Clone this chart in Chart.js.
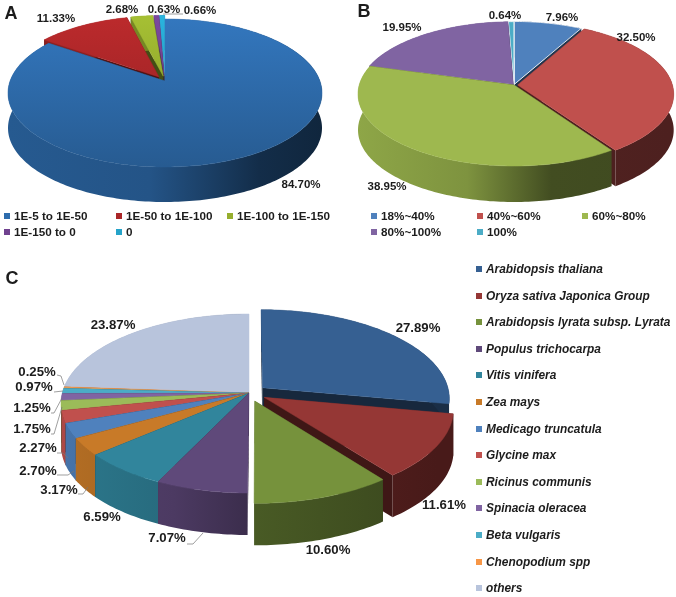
<!DOCTYPE html>
<html>
<head>
<meta charset="utf-8">
<title>Pie charts</title>
<script src="https://cdn.jsdelivr.net/npm/chart.js@4"></script>
<style>
	body {margin: 0; background: #fff;}
	canvas {position: absolute; left: 0; top: 0;}
</style>
</head>
<body>
<canvas id="pie_a" width="676" height="597"></canvas>
<canvas id="pie_b" width="676" height="597"></canvas>
<canvas id="pie_c" width="676" height="597"></canvas>
<script>
var aLabels = ["1E-5 to 1E-50", "1E-50 to 1E-100", "1E-100 to 1E-150", "1E-150 to 0", "0"];
var aValues = [84.70, 11.33, 2.68, 0.63, 0.66];
var aColors = ["#2e6cad", "#aa2628", "#96ae2e", "#70418f", "#25a3c9"];
var aOffsets = [0, 20, 20, 20, 20];

var bLabels = ["18%~40%", "40%~60%", "60%~80%", "80%~100%", "100%"];
var bValues = [7.96, 32.50, 38.95, 19.95, 0.64];
var bColors = ["#4f81bd", "#c0504d", "#9eb84f", "#8064a2", "#4bacc6"];
var bOffsets = [3, 7, 0, 2, 2];

var cLabels = ["Arabidopsis thaliana", "Oryza sativa Japonica Group", "Arabidopsis lyrata subsp. Lyrata",
	"Populus trichocarpa", "Vitis vinifera", "Zea mays", "Medicago truncatula", "Glycine max",
	"Ricinus communis", "Spinacia oleracea", "Beta vulgaris", "Chenopodium spp", "others"];
var cValues = [27.89, 11.61, 10.60, 7.07, 6.59, 3.17, 2.70, 2.27, 1.75, 1.25, 0.97, 0.25, 23.87];
var cColors = ["#366092", "#953735", "#76923c", "#5f497a", "#31859c", "#c87a28", "#4f81bd",
	"#c0504d", "#9bbb59", "#8064a2", "#4bacc6", "#f79646", "#b8c4dc"];
var cOffsets = [27, 27, 27, 0, 0, 0, 0, 0, 0, 0, 0, 0, 0];

//where things sit on the page
var layoutA = {
	letter: "A", letterX: 11, letterY: 14,
	cx: 165, ay: 81, far: 62, near: 86, halfWidth: 157, depth: 35,
	sideStops: [[0, .83], [.45, .78], [.8, .42], [1, .35]], topShade: [1.1, .84], cutShade: .45,
	textX: [301, 56, 122, 164, 200], textY: [185, 19, 10, 10, 11],
	font: "bold 11.5px 'Liberation Sans'",
	leaders: [[[163, 14], [183, 14]]],
	legendX: [4, 116, 227, 4, 116], legendY: [216, 216, 216, 232, 232],
	legendFont: "bold 11.7px 'Liberation Sans'"
};
var layoutB = {
	letter: "B", letterX: 364, letterY: 12,
	cx: 514, ay: 85, far: 63, near: 81, halfWidth: 156, depth: 36,
	sideStops: [[0, .9], [.35, .8], [.62, .42], [1, .4]], topShade: [1, 1], cutShade: .4,
	whiteEdge: [true, false, false, false, true],
	textX: [562, 636, 387, 402, 505], textY: [18, 38, 187, 28, 16],
	font: "bold 11.5px 'Liberation Sans'",
	leaders: [],
	legendX: [371, 477, 582, 371, 477], legendY: [216, 216, 216, 232, 232],
	legendFont: "bold 11.7px 'Liberation Sans'"
};
var layoutC = {
	letter: "C", letterX: 12, letterY: 279,
	cx: 249, ay: 393, far: 79, near: 100, halfWidth: 188, depth: 42,
	sideStops: [[0, .9], [.3, .8], [.5, .62], [1, .48]], topShade: [1, 1], cutShade: .42,
	textX: [418, 444, 328, 167, 102, 59, 38, 38, 32, 32, 34, 37, 113],
	textY: [328, 505, 550, 538, 517, 490, 471, 448, 429, 408, 387, 372, 325],
	font: "bold 13.2px 'Liberation Sans'",
	leaders: [
		[[57, 375], [61, 376], [64, 385]], [[54, 392], [63, 391]], [[51, 413], [54, 413], [62, 398]],
		[[51, 434], [54, 434], [62, 407]], [[57, 453], [63, 453], [68, 458]], [[57, 475], [68, 475], [74, 471]],
		[[78, 494], [83, 494], [88, 487]], [[187, 544], [193, 544], [203, 533]]
	],
	legendX: [476, 476, 476, 476, 476, 476, 476, 476, 476, 476, 476, 476, 476],
	legendY: [269, 296, 322, 349, 375, 402, 429, 455, 482, 508, 535, 562, 588],
	legendFont: "italic bold 11.9px 'Liberation Sans'"
};

function shade(hex, f) {
	var out = "rgb(";
	for (var i = 0; i < 3; i++) {
		var v = parseInt(hex.substr(1 + i * 2, 2), 16) * f;
		out += Math.min(255, Math.round(v)) + (i < 2 ? "," : ")");
	}
	return out;
}

//tilted 3d pie: takes the arc angles chart.js worked out and projects them
function tiltedPie(g, labels, values, colors) {
	var p = (g.near - g.far) / (g.near + g.far);
	var B = g.far * (1 + p);
	var A = g.halfWidth * Math.sqrt(1 - p * p);

	function project(nx, ny, drop) {
		var w = 1 - p * ny;
		return [g.cx + A * nx / w, g.ay + B * ny / w + drop];
	}
	function trace(ctx, pts) {
		ctx.beginPath();
		pts.forEach(function(pt, i) {
			if (i == 0) ctx.moveTo(pt[0], pt[1]);
			else ctx.lineTo(pt[0], pt[1]);
		});
		ctx.closePath();
	}

	return {
		id: "tiltedPie",
		beforeDatasetsDraw: function(chart) {
			var ctx = chart.ctx;
			var slices = chart.getDatasetMeta(0).data.map(function(el, i) {
				var mid = (el.startAngle + el.endAngle) / 2;
				var off = el.options.offset / el.outerRadius;
				return {el: el, index: i, color: colors[i], mid: mid, bx: off * Math.cos(mid), by: off * Math.sin(mid)};
			});
			slices.sort(function(a, b) {return Math.sin(a.mid) - Math.sin(b.mid);});

			slices.forEach(function(s) {
				var rim = [];
				var steps = Math.max(2, Math.ceil((s.el.endAngle - s.el.startAngle) / 0.02));
				for (var k = 0; k <= steps; k++) {
					var a = s.el.startAngle + (s.el.endAngle - s.el.startAngle) * k / steps;
					rim.push([s.bx + Math.cos(a), s.by + Math.sin(a)]);
				}
				var top = rim.map(function(q) {return project(q[0], q[1], 0);});
				var low = rim.map(function(q) {return project(q[0], q[1], g.depth);});
				var apex = project(s.bx, s.by, 0);
				var apexLow = project(s.bx, s.by, g.depth);

				//cut faces
				ctx.fillStyle = shade(s.color, g.cutShade);
				trace(ctx, [apex, top[0], low[0], apexLow]);
				ctx.fill();
				trace(ctx, [apex, top[steps], low[steps], apexLow]);
				ctx.fill();

				//outer wall
				var wall = ctx.createLinearGradient(g.cx - g.halfWidth, 0, g.cx + g.halfWidth, 0);
				g.sideStops.forEach(function(st) {wall.addColorStop(st[0], shade(s.color, st[1]));});
				ctx.fillStyle = wall;
				trace(ctx, top.concat(low.slice().reverse()));
				ctx.fill();

				//top face
				var face = ctx.createLinearGradient(0, g.ay - g.far, 0, g.ay + g.near);
				face.addColorStop(0, shade(s.color, g.topShade[0]));
				face.addColorStop(1, shade(s.color, g.topShade[1]));
				ctx.fillStyle = face;
				trace(ctx, [apex].concat(top));
				ctx.fill();
				var white = g.whiteEdge && g.whiteEdge[s.index];
				ctx.strokeStyle = white ? "#fff" : face;
				ctx.lineWidth = white ? 0.8 : 0.5;
				ctx.stroke();
			});
			return false;
		},
		afterDraw: function(chart) {
			var ctx = chart.ctx;
			ctx.save();

			ctx.strokeStyle = "#777";
			ctx.lineWidth = 0.7;
			g.leaders.forEach(function(line) {
				ctx.beginPath();
				line.forEach(function(pt, i) {
					if (i == 0) ctx.moveTo(pt[0], pt[1]);
					else ctx.lineTo(pt[0], pt[1]);
				});
				ctx.stroke();
			});

			ctx.textBaseline = "middle";
			ctx.fillStyle = "#1c1c1c";
			ctx.textAlign = "center";
			ctx.font = g.font;
			values.forEach(function(v, i) {
				ctx.fillText(v.toFixed(2) + "%", g.textX[i], g.textY[i]);
			});

			ctx.font = "bold 18px 'Liberation Sans'";
			ctx.fillText(g.letter, g.letterX, g.letterY);

			ctx.textAlign = "left";
			ctx.font = g.legendFont;
			labels.forEach(function(name, i) {
				ctx.fillStyle = colors[i];
				ctx.fillRect(g.legendX[i], g.legendY[i] - 3, 6, 6);
				ctx.fillStyle = "#1c1c1c";
				ctx.fillText(name, g.legendX[i] + 10, g.legendY[i] + 0.5);
			});
			ctx.restore();
		}
	};
}

function makePie(id, labels, values, colors, offsets, layout) {
	return new Chart(document.getElementById(id), {
		type: "pie",
		data: {
			labels: labels,
			datasets: [{
				data: values,
				backgroundColor: colors,
				offset: offsets,
				borderWidth: 0
			}]
		},
		options: {
			responsive: false,
			animation: false,
			events: [],
			plugins: {legend: {display: false}, tooltip: {enabled: false}}
		},
		plugins: [tiltedPie(layout, labels, values, colors)]
	});
}

makePie("pie_a", aLabels, aValues, aColors, aOffsets, layoutA);
makePie("pie_b", bLabels, bValues, bColors, bOffsets, layoutB);
makePie("pie_c", cLabels, cValues, cColors, cOffsets, layoutC);
</script>
</body>
</html>
